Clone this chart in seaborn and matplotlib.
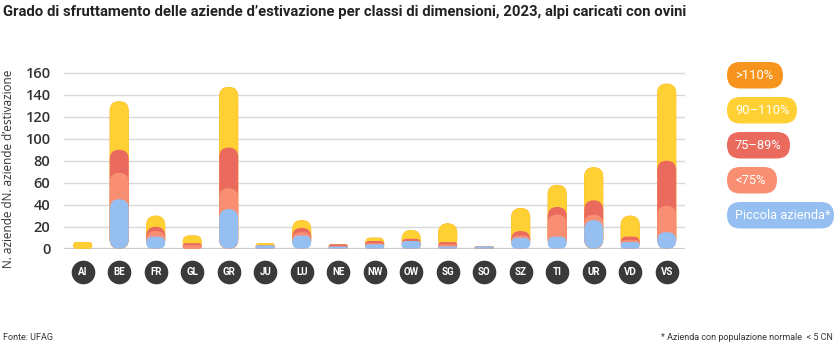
import matplotlib
matplotlib.use("Agg")
import matplotlib.pyplot as plt
import seaborn as sns
import numpy as np
import pandas as pd
from matplotlib.patches import FancyBboxPatch
from matplotlib.transforms import IdentityTransform, blended_transform_factory

# ---- data ----
cantons = ["AI", "BE", "FR", "GL", "GR", "JU", "LU", "NE", "NW", "OW",
           "SG", "SO", "SZ", "TI", "UR", "VD", "VS"]
piccola  = [0, 45, 11, 0, 36, 3, 12, 2, 4, 7, 2, 2, 10, 11, 26, 6, 15]
meno75   = [0, 24, 5, 3, 19, 0, 3, 0, 1, 0, 2, 0, 2, 20, 5, 2, 24]
da75_89  = [0, 21, 4, 2, 37, 0, 4, 2, 2, 2, 2, 0, 4, 7, 13, 3, 41]
da90_110 = [6, 44, 10, 7, 55, 2, 7, 0, 3, 8, 17, 0, 21, 20, 30, 19, 70]
oltre110 = [0] * 17

series_names = [">110%", "90–110%", "75–89%", "<75%", "Piccola azienda*"]
series_colors = ["#F7941D", "#FFD034", "#EB6A5E", "#F98F72", "#94BFF0"]
yticks = [0, 20, 40, 60, 80, 100, 120, 140, 160]

title = "Grado di sfruttamento delle aziende d’estivazione per classi di dimensioni, 2023, alpi caricati con ovini"
ylabel = "N. aziende dN. aziende d’estivazione"
source = "Fonte: UFAG"
note = "* Azienda con populazione normale  < 5 CN"

# ---- figure ----
sns.set_theme(style="white")
plt.rcParams["font.family"] = ["Open Sans", "DejaVu Sans"]
COND = ["Roboto", "DejaVu Sans"]

W, H = 836, 358
fig = plt.figure(figsize=(W / 100, H / 100), dpi=100)
ax_left, ax_bottom_px, ax_w, ax_h = 64.45, 248.7, 620.5, 184.8
ax = fig.add_axes([ax_left / W, 1 - ax_bottom_px / H, ax_w / W, ax_h / H])

layers = [oltre110, da90_110, da75_89, meno75, piccola]  # top to bottom
arr = np.array(layers[::-1], dtype=float)               # bottom to top
cum = np.cumsum(arr, axis=0)[::-1]                     # cumulative, top layer first

for vals, col in zip(cum, series_colors):
    df = pd.DataFrame({"canton": cantons, "val": vals})
    sns.barplot(data=df, x="canton", y="val", order=cantons, color=col,
                saturation=1, width=0.52, ax=ax, errorbar=None)

ax.set_xlim(-0.5, len(cantons) - 0.5)
ax.set_ylim(0, 168)
for s in ax.spines.values():
    s.set_visible(False)
ax.set_yticks(yticks)
ax.set_yticklabels([str(v) for v in yticks], fontsize=10.5, fontweight="semibold", color="#333333")
ax.tick_params(axis="y", length=0, pad=10)
ax.set_xticks(range(len(cantons)))
ax.set_xticklabels([])
ax.tick_params(axis="x", length=0)
ax.set_xlabel("")
ax.set_ylabel("")
for v in yticks:
    ax.axhline(v, color="#cccccc" if v == 0 else "#d9d9d9", lw=1.6 if v == 0 else 1.0, zorder=0)

# rounded bars
fig.canvas.draw()
bb = ax.get_window_extent()
xr = ax.get_xlim()[1] - ax.get_xlim()[0]
yr = ax.get_ylim()[1] - ax.get_ylim()[0]
aspect = (yr / bb.height) / (xr / bb.width)
rects = list(ax.patches)
for i, p in enumerate(rects):
    x, y, w, h = p.get_x(), p.get_y(), p.get_width(), p.get_height()
    fc = p.get_facecolor()
    p.remove()
    if h <= 0:
        continue
    r = min(w / 2, (h / aspect) / 2)
    layer = i // len(cantons)
    ax.add_patch(FancyBboxPatch((x, y), w, h, boxstyle=f"round,pad=0,rounding_size={r}",
                                mutation_aspect=aspect, fc=fc, ec="none",
                                zorder=2 + layer, clip_on=False))

# category badges
tr = blended_transform_factory(ax.transData, ax.transAxes)
ypos = (ax_bottom_px - 272) / ax_h
xs = np.arange(len(cantons))
ax.scatter(xs, [ypos] * len(xs), s=290, color="#3a3a3a", transform=tr, clip_on=False, zorder=5,
           linewidths=0)
for xi, c in zip(xs, cantons):
    ax.text(xi, ypos, c, transform=tr, ha="center", va="center", color="white", fontsize=7,
            fontweight="bold", family=COND, zorder=6)

# legend pills
tops = [62, 97, 132, 167, 202]
widths = [56, 70, 63, 50, 107]
ph = 26.5
for name, col, top, wd in zip(series_names, series_colors, tops, widths):
    y0 = H - top - ph
    fig.add_artist(FancyBboxPatch((727, y0), wd, ph,
                                  boxstyle=f"round,pad=0,rounding_size={ph/2}",
                                  transform=IdentityTransform(), fc=col, ec="none"))
    fig.text(735 / W, (y0 + ph / 2) / H, name, ha="left", va="center", color="white",
             fontsize=9.3, family=COND)

# texts
fig.text(3 / W, 1 - 12 / H, title, ha="left", va="center", fontsize=10.7, fontweight="bold",
         color="#222222", family=COND)
fig.text(9 / W, 1 - 168.5 / H, ylabel, rotation=90, ha="center", va="center", fontsize=8.5,
         color="#333333")
fig.text(3 / W, 1 - 338 / H, source, ha="left", va="center", fontsize=6.5, color="#333333",
         family=COND)
fig.text(833 / W, 1 - 338 / H, note, ha="right", va="center", fontsize=6.5, color="#333333",
         family=COND)

fig.savefig("out.png", dpi=100, facecolor="white")
